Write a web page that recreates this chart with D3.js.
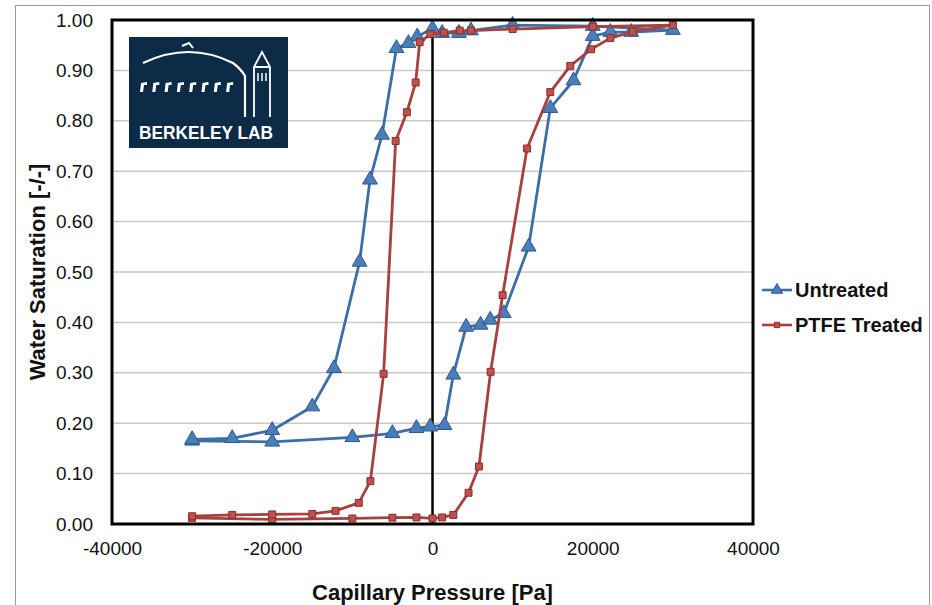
<!DOCTYPE html>
<html>
<head>
<meta charset="utf-8">
<script src="https://cdn.jsdelivr.net/npm/d3@7"></script>
<style>
  body { margin: 0; background: #fff; }
  svg { display: block; font-family: "Liberation Sans", Arial, sans-serif; }
  .tick text { fill: #111; }
</style>
</head>
<body>
<svg width="932" height="605"></svg>
<script>
// capillary pressure [Pa] and water saturation, in measurement order
var untreatedP = [-30000, -20000, -10000, -5000, -2000, -300, 1500, 2600, 4200, 6000, 7200, 8900,
  12000, 14700, 17600, 20000, 22200, 24800, 30000, 20000, 10000, 4800, 3300, 1200, 0, -1900,
  -3000, -4500, -6300, -7800, -9100, -12300, -15000, -20000, -25000, -30000];
var untreatedS = [0.165, 0.163, 0.172, 0.180, 0.190, 0.193, 0.196, 0.296, 0.391, 0.395, 0.405, 0.418,
  0.550, 0.825, 0.880, 0.968, 0.976, 0.976, 0.980, 0.988, 0.990, 0.979, 0.974, 0.974, 0.983, 0.967,
  0.954, 0.944, 0.772, 0.683, 0.520, 0.309, 0.233, 0.186, 0.170, 0.168];

var ptfeP = [-30000, -20000, -10000, -5000, -2000, 0, 1200, 2600, 4500, 5800, 7250, 8750, 11800,
  14700, 17200, 19800, 22200, 25000, 30000, 20000, 10000, 4800, 3400, 1400, -250, -1600, -2100,
  -3200, -4600, -6100, -7750, -9200, -12100, -15000, -20000, -25000, -30000];
var ptfeS = [0.012, 0.009, 0.011, 0.0125, 0.013, 0.011, 0.013, 0.018, 0.062, 0.114, 0.302, 0.454, 0.745,
  0.857, 0.909, 0.942, 0.964, 0.977, 0.990, 0.987, 0.982, 0.979, 0.979, 0.975, 0.972, 0.956, 0.876,
  0.817, 0.760, 0.298, 0.085, 0.042, 0.026, 0.020, 0.019, 0.018, 0.0155];

var xTicks = [-40000, -20000, 0, 20000, 40000];
var yTicks = [0, 0.1, 0.2, 0.3, 0.4, 0.5, 0.6, 0.7, 0.8, 0.9, 1.0];

var series = [
  {name: "Untreated", p: untreatedP, s: untreatedS, line: "#3d6ea8", fill: "#4a7ebb", edge: "#2f5a8c", shape: d3.symbolTriangle, size: 95, legSize: 55},
  {name: "PTFE Treated", p: ptfeP, s: ptfeS, line: "#a8403d", fill: "#c0504d", edge: "#8b2c2a", shape: d3.symbolSquare, size: 48, legSize: 28}
];

var svg = d3.select("svg");
var plotL = 112, plotR = 753, plotT = 20, plotB = 524;

var x = d3.scaleLinear().domain([-40000, 40000]).range([plotL, plotR]);
var y = d3.scaleLinear().domain([0, 1]).range([plotB, plotT]);

// outer chart frame
svg.append("rect")
  .attr("x", 15.5).attr("y", 5.5).attr("width", 914).attr("height", 640)
  .attr("fill", "none").attr("stroke", "#9a9a9a");

// gridlines
svg.append("g")
  .selectAll("line")
  .data(yTicks.slice(1, -1))
  .enter().append("line")
  .attr("x1", plotL).attr("x2", plotR)
  .attr("y1", d => y(d)).attr("y2", d => y(d))
  .attr("stroke", "#c9c9c9").attr("stroke-width", 1.5);

// logo
var logo = svg.append("g").attr("transform", "translate(129,37)");
logo.append("rect").attr("width", 159).attr("height", 111).attr("fill", "#0c2b47");
logo.append("path")
  .attr("d", "M14,26 Q60,4 104,26 Q112,32 116,39 L116,80")
  .attr("fill", "none").attr("stroke", "#fff").attr("stroke-width", 2.2);
logo.append("path")
  .attr("d", "M53,9 L60,6 L64,11")
  .attr("fill", "none").attr("stroke", "#fff").attr("stroke-width", 2);
logo.append("path")
  .attr("d", "M125,80 L125,30 L133,15 L141,30 L141,80 M125,30 L141,30")
  .attr("fill", "none").attr("stroke", "#fff").attr("stroke-width", 1.8);
logo.append("path")
  .attr("d", "M129,36 L129,44 M133,36 L133,44 M137,36 L137,44")
  .attr("fill", "none").attr("stroke", "#fff").attr("stroke-width", 1.5);
logo.append("g").selectAll("path")
  .data(d3.range(8))
  .enter().append("path")
  .attr("d", d => { var x0 = 11 + d * 12.3; return "M" + x0 + ",55 L" + (x0 + 1) + ",46 L" + (x0 + 7) + ",45 L" + (x0 + 7) + ",48 L" + (x0 + 4) + ",48 L" + (x0 + 3) + ",55 Z"; })
  .attr("fill", "#fff");
logo.append("text")
  .attr("x", 10).attr("y", 102)
  .attr("textLength", 134).attr("lengthAdjust", "spacingAndGlyphs")
  .attr("font-size", 19).attr("font-weight", "bold").attr("fill", "#fff")
  .text("BERKELEY LAB");

// zero line
svg.append("line")
  .attr("x1", x(0)).attr("x2", x(0)).attr("y1", plotT).attr("y2", plotB)
  .attr("stroke", "#000").attr("stroke-width", 2.5);

// series
var line = d3.line().x(d => x(d[0])).y(d => y(d[1]));
series.forEach(sr => {
  var pts = sr.p.map((v, i) => [v, sr.s[i]]);
  svg.append("path")
    .attr("d", line(pts))
    .attr("fill", "none").attr("stroke", sr.line).attr("stroke-width", 2.8)
    .attr("stroke-linejoin", "round");
  svg.append("g").selectAll("path")
    .data(pts)
    .enter().append("path")
    .attr("transform", d => "translate(" + x(d[0]) + "," + y(d[1]) + ")")
    .attr("d", d3.symbol().type(sr.shape).size(sr.size))
    .attr("fill", sr.fill).attr("stroke", sr.edge).attr("stroke-width", 1);
});

// plot border
svg.append("rect")
  .attr("x", plotL).attr("y", plotT).attr("width", plotR - plotL).attr("height", plotB - plotT)
  .attr("fill", "none").attr("stroke", "#000").attr("stroke-width", 3);

// axes
var xAxis = svg.append("g")
  .attr("transform", "translate(0," + (plotB + 14) + ")")
  .call(d3.axisBottom(x).tickValues(xTicks).tickSize(0).tickFormat(d => String(d)));
xAxis.select(".domain").remove();
xAxis.selectAll("text").attr("font-size", 19).attr("font-family", "Liberation Sans, Arial, sans-serif");

var yAxis = svg.append("g")
  .attr("transform", "translate(" + (plotL - 16) + ",0)")
  .call(d3.axisLeft(y).tickValues(yTicks).tickSize(0).tickFormat(d3.format(".2f")));
yAxis.select(".domain").remove();
yAxis.selectAll("text").attr("font-size", 19).attr("font-family", "Liberation Sans, Arial, sans-serif");

svg.append("text")
  .attr("x", x(0)).attr("y", 600)
  .attr("text-anchor", "middle").attr("font-size", 22).attr("font-weight", "bold")
  .attr("fill", "#111")
  .text("Capillary Pressure [Pa]");

svg.append("text")
  .attr("transform", "translate(45," + ((plotT + plotB) / 2) + ") rotate(-90)")
  .attr("text-anchor", "middle").attr("font-size", 22).attr("font-weight", "bold")
  .attr("fill", "#111")
  .text("Water Saturation [-/-]");

// legend
var leg = svg.append("g").selectAll("g")
  .data(series)
  .enter().append("g")
  .attr("transform", (d, i) => "translate(762," + (290 + i * 35) + ")");
leg.append("line").attr("x1", 0).attr("x2", 30)
  .attr("stroke", d => d.line).attr("stroke-width", 2.6);
leg.append("path")
  .attr("transform", "translate(15,0)")
  .attr("d", d => d3.symbol().type(d.shape).size(d.legSize)())
  .attr("fill", d => d.fill).attr("stroke", d => d.edge);
leg.append("text")
  .attr("x", 33).attr("y", 7)
  .attr("font-size", 20).attr("font-weight", "bold").attr("fill", "#111")
  .text(d => d.name);
</script>
</body>
</html>
